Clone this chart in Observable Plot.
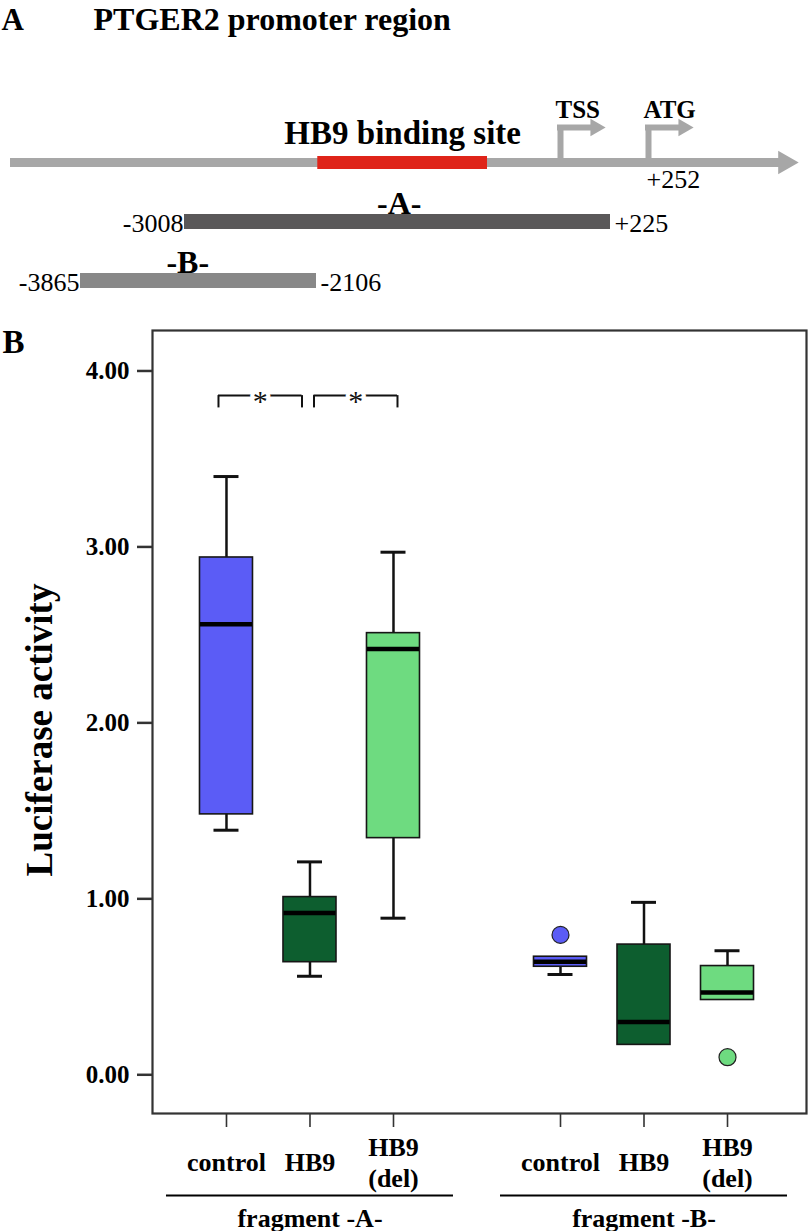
<!DOCTYPE html>
<html>
<head>
<meta charset="utf-8">
<script src="https://cdn.jsdelivr.net/npm/d3@7"></script>
<script src="https://cdn.jsdelivr.net/npm/@observablehq/plot@0.6"></script>
<style>
  html, body { margin: 0; padding: 0; background: #fff; }
  #chart svg { display: block; }
</style>
</head>
<body>
<div id="chart"></div>
<script>
// ===================== DATA =====================
// Panel A: promoter map (bp relative to TSS)
const tracks = ["promoter", "-A-", "-B-"];
const promoterSpan = [-4450, 370];          // drawn extent of the promoter line
const bindingSite = [-2095, -630];          // HB9 binding site
const fragmentNames = ["-A-", "-B-"];
const fragmentStart = [-3008, -3865];
const fragmentEnd = [225, -2106];
const landmarkNames = ["TSS", "ATG"];
const landmarkPos = [0, 252];
const landmarkLabels = ["", "+252"];

// Panel B: box plot summaries (luciferase activity)
const groups = ["fragment -A-", "fragment -B-"];
const conditions = ["control", "HB9", "HB9\n(del)"];
const whiskerLow  = [1.39, 0.56, 0.89, 0.57, 0.17, 0.425];
const q1          = [1.48, 0.64, 1.345, 0.614, 0.17, 0.425];
const median      = [2.56, 0.92, 2.42, 0.643, 0.30, 0.468];
const q3          = [2.94, 1.01, 2.51, 0.671, 0.74, 0.618];
const whiskerHigh = [3.40, 1.21, 2.97, 0.671, 0.98, 0.705];
const outlierBox   = [3, 5];
const outlierValue = [0.795, 0.10];
const sigPairs = [[0, 1], [1, 2]];
const sigLabels = ["*", "*"];
const yTicks = [0, 1, 2, 3, 4];

// ===================== STYLE / LAYOUT =====================
const SERIF = "'Liberation Serif', 'Times New Roman', Times, serif";
const GREY = "#a7a7a7", RED = "#df2419";
const FRAG_COLORS = ["#5a5859", "#888888"];
const BOX_FILL = ["#5b5cf6", "#0d5e2f", "#6edb80"];
const MAP_RANGE = [10, 80, 184, 316, 560, 610, 648, 798];
const Y_DOMAIN = [-0.22, 4.23];
const X_DOMAIN = [-0.886, 6.946];
const BRACKET_TOP = 3.86, BRACKET_LEG = 3.79;
const BRACKET_DX = [-8, 4];

const fmtPos = d => d > 0 ? `+${d}` : `${d}`;

// ===================== PANEL A =====================
const fragments = fragmentNames.map((name, i) => ({name, start: fragmentStart[i], end: fragmentEnd[i], color: FRAG_COLORS[i]}));
const landmarks = landmarkNames.map((name, i) => ({name, pos: landmarkPos[i], label: landmarkLabels[i]}));
const mapDomain = Array.from(new Set([...promoterSpan, ...fragmentStart, ...fragmentEnd, ...landmarkPos])).sort((a, b) => a - b);
const onLine = () => tracks[0];

const mapPlot = Plot.plot({
  width: 812, height: 300, margin: 0,
  x: {type: "linear", domain: mapDomain, range: MAP_RANGE, axis: null},
  y: {type: "point", domain: tracks, range: [162, 280], padding: 0, axis: null},
  color: {type: "identity"},
  style: {fontFamily: SERIF, fontSize: "24px", fontWeight: "bold", color: "black", background: "white", overflow: "visible"},
  marks: [
    Plot.text(["A"], {text: d => d, frameAnchor: "top-left", textAnchor: "start", lineAnchor: "bottom", dx: 1, dy: 29, fontSize: 31}),
    Plot.text(["PTGER2 promoter region"], {text: d => d, frameAnchor: "top-left", textAnchor: "start", lineAnchor: "bottom", dx: 93, dy: 29, fontSize: 32}),
    // main promoter line + arrowhead
    Plot.ruleY([promoterSpan], {x1: d => d[0], x2: d => d[1], y: onLine, stroke: GREY, strokeWidth: 9, insetRight: 14}),
    Plot.dot([promoterSpan[1]], {x: d => d, y: onLine, symbol: "triangle", rotate: 90, r: 8.8, fill: GREY, stroke: "none", dx: -13.5}),
    // binding site
    Plot.ruleY([bindingSite], {x1: d => d[0], x2: d => d[1], y: onLine, stroke: RED, strokeWidth: 13}),
    Plot.text([bindingSite], {x: d => (d[0] + d[1]) / 2, y: onLine, text: () => "HB9 binding site", lineAnchor: "bottom", dy: -19, fontSize: 33}),
    // TSS / ATG bent arrows
    Plot.ruleX(landmarks, {x: "pos", y1: onLine, y2: onLine, insetTop: -35, stroke: GREY, strokeWidth: 6}),
    Plot.ruleY(landmarks, {x1: "pos", x2: "pos", y: onLine, dy: -35, insetLeft: -3, insetRight: -31, stroke: GREY, strokeWidth: 6}),
    Plot.dot(landmarks, {x: "pos", y: onLine, dy: -35, dx: 35, symbol: "triangle", rotate: 90, r: 6.5, fill: GREY, stroke: "none"}),
    Plot.text(landmarks, {x: "pos", y: onLine, text: "name", textAnchor: "start", lineAnchor: "bottom", dx: -5, dy: -45, fontSize: 25}),
    Plot.text(landmarks.filter(d => d.label), {x: "pos", y: onLine, text: "label", textAnchor: "start", lineAnchor: "bottom", dx: -2, dy: 25, fontSize: 26, fontWeight: "normal"}),
    // fragments
    Plot.ruleY(fragments, {y: "name", x1: "start", x2: "end", stroke: "color", strokeWidth: 15}),
    Plot.text(fragments, {x: "start", y: "name", text: d => fmtPos(d.start), textAnchor: "end", lineAnchor: "bottom", dx: -1, dy: 10, fontSize: 26, fontWeight: "normal"}),
    Plot.text(fragments, {x: "end", y: "name", text: d => fmtPos(d.end), textAnchor: "start", lineAnchor: "bottom", dx: 4, dy: 10, fontSize: 26, fontWeight: "normal"}),
    Plot.text(fragments, {x: d => (d.start + d.end) / 2, y: "name", text: "name", lineAnchor: "bottom", dy: -8, fontSize: 32})
  ]
});

// ===================== PANEL B =====================
const boxes = [];
groups.forEach((g, gi) => conditions.forEach((c, ci) => {
  const k = gi * conditions.length + ci;
  boxes.push({group: g, condition: c, pos: gi * (conditions.length + 1) + ci,
    lo: whiskerLow[k], q1: q1[k], med: median[k], q3: q3[k], hi: whiskerHigh[k], fill: BOX_FILL[ci]});
}));
const outliers = outlierBox.map((b, i) => ({pos: boxes[b].pos, value: outlierValue[i], fill: boxes[b].fill}));
const groupRows = groups.map((name) => {
  const bs = boxes.filter(b => b.group === name);
  return {name, first: bs[0].pos, last: bs[bs.length - 1].pos, mid: bs[Math.floor(bs.length / 2)].pos};
});
const brackets = sigPairs.map(([a, b], i) => ({x1: boxes[a].pos, x2: boxes[b].pos, mid: (boxes[a].pos + boxes[b].pos) / 2, label: sigLabels[i]}));

const bracketMarks = brackets.flatMap((b, i) => [
  Plot.ruleY([b], {x1: "x1", x2: "x2", y: () => BRACKET_TOP, dx: BRACKET_DX[i], stroke: "#111", strokeWidth: 2}),
  Plot.ruleX([b.x1, b.x2], {x: d => d, y1: () => BRACKET_TOP, y2: () => BRACKET_LEG, dx: BRACKET_DX[i], stroke: "#111", strokeWidth: 2}),
  Plot.text([b], {x: "mid", y: () => BRACKET_TOP, text: "label", dx: BRACKET_DX[i], dy: 15, lineAnchor: "bottom", fontSize: 30, fontWeight: "normal", stroke: "white", strokeWidth: 8, paintOrder: "stroke", fill: "#111"})
]);

const chart = Plot.plot({
  width: 812, height: 931,
  marginTop: 30, marginBottom: 118, marginLeft: 152, marginRight: 6,
  x: {type: "linear", domain: X_DOMAIN, axis: null},
  y: {type: "linear", domain: Y_DOMAIN, axis: null},
  color: {type: "identity"},
  style: {fontFamily: SERIF, fontSize: "24px", fontWeight: "bold", color: "black", background: "white", overflow: "visible"},
  marks: [
    Plot.axisY({ticks: yTicks, tickFormat: d3.format(".2f"), tickSize: 15, tickPadding: 8, fontSize: 25, fontWeight: "bold", label: null, stroke: "#333", strokeWidth: 2.5}),
    // whiskers
    Plot.ruleX(boxes, {x: "pos", y1: "lo", y2: "hi", stroke: "#111", strokeWidth: 2.5}),
    Plot.ruleY(boxes.filter(d => d.hi > d.q3), {x1: "pos", x2: "pos", y: "hi", insetLeft: -12.5, insetRight: -12.5, stroke: "#111", strokeWidth: 3}),
    Plot.ruleY(boxes.filter(d => d.lo < d.q1), {x1: "pos", x2: "pos", y: "lo", insetLeft: -12.5, insetRight: -12.5, stroke: "#111", strokeWidth: 3}),
    // boxes
    Plot.rect(boxes, {x1: "pos", x2: "pos", y1: "q1", y2: "q3", insetLeft: -26.5, insetRight: -26.5, fill: "fill", stroke: "#161616", strokeWidth: 1.6}),
    Plot.ruleY(boxes, {x1: "pos", x2: "pos", y: "med", insetLeft: -26, insetRight: -26, stroke: "black", strokeWidth: 4.5}),
    // outliers
    Plot.dot(outliers, {x: "pos", y: "value", r: 8.5, fill: "fill", stroke: "#222", strokeWidth: 1.2}),
    // significance brackets
    ...bracketMarks,
    Plot.frame({stroke: "#333", strokeWidth: 2.2}),
    // x ticks and category labels
    Plot.ruleX(boxes, {x: "pos", y1: () => Y_DOMAIN[0], y2: () => Y_DOMAIN[0], insetBottom: -14, stroke: "#333", strokeWidth: 1.6}),
    Plot.text(boxes, {x: "pos", text: "condition", frameAnchor: "bottom", lineAnchor: "middle", textAnchor: "middle", dy: 48, lineHeight: 1.2, fontSize: 26}),
    // group underline + labels
    Plot.ruleY(groupRows, {x1: "first", x2: "last", y: () => Y_DOMAIN[0], dy: 82, insetLeft: -60, insetRight: -60, stroke: "black", strokeWidth: 2}),
    Plot.text(groupRows, {x: "mid", text: "name", frameAnchor: "bottom", lineAnchor: "middle", textAnchor: "middle", dy: 105, fontSize: 26}),
    // axis title and panel label
    Plot.text(["Luciferase activity"], {text: d => d, frameAnchor: "left", rotate: -90, textAnchor: "middle", lineAnchor: "middle", dx: -112, dy: 8, fontSize: 37}),
    Plot.text(["B"], {text: d => d, frameAnchor: "top-left", textAnchor: "start", lineAnchor: "bottom", dx: -150, dy: 22, fontSize: 33})
  ]
});

const root = document.getElementById("chart");
root.append(mapPlot, chart);
</script>
</body>
</html>
